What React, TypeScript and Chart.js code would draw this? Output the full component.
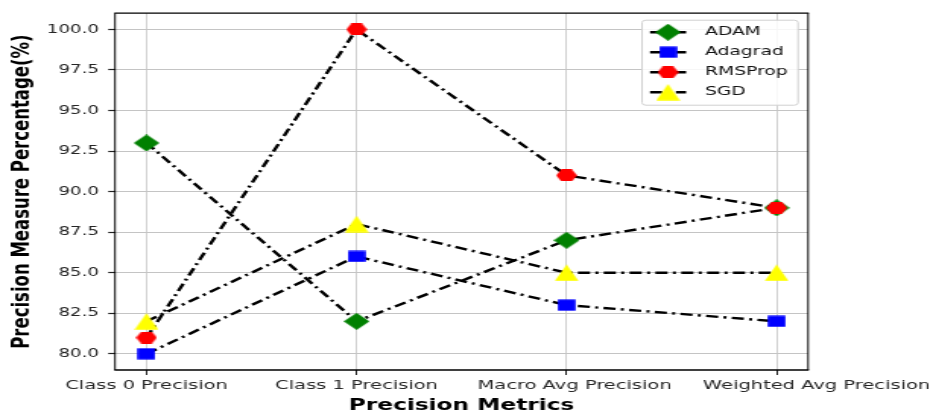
import React, { useEffect, useRef } from 'react';
import { Chart, registerables } from 'chart.js';

Chart.register(...registerables);

// ---- data ----
const categories = ['Class 0 Precision', 'Class 1 Precision', 'Macro Avg Precision', 'Weighted Avg Precision'];
const seriesNames = ['ADAM', 'Adagrad', 'RMSProp', 'SGD'];
const adamValues = [93, 82, 87, 89];
const adagradValues = [80, 86, 83, 82];
const rmspropValues = [81, 100, 91, 89];
const sgdValues = [82, 88, 85, 85];
const yTicks = [80, 82.5, 85, 87.5, 90, 92.5, 95, 97.5, 100];
const seriesColors = ['#008000', '#0000ff', '#ff0000', '#ffff00'];

// ---- layout (the reference is horizontally stretched) ----
const PAGE_W = 933;
const PAGE_H = 415;
const STRETCH = 1.52;
const W = Math.round(PAGE_W / STRETCH);
const H = PAGE_H;
const DASH = [8, 3.5, 2, 3.5];
const FONT = '"DejaVu Sans", sans-serif';
// horizontal nudge of each category label (px, canvas units), as seen in the reference
const xLabelNudge = [0, 0, 5.3, 26.3];

function mk(w: number, h: number, draw: (c: CanvasRenderingContext2D) => void) {
  const c = document.createElement('canvas');
  c.width = w;
  c.height = h;
  const ctx = c.getContext('2d')!;
  draw(ctx);
  return c;
}

function makeMarkers() {
  const diamond = mk(17, 17, (c) => {
    c.fillStyle = seriesColors[0];
    c.beginPath();
    c.moveTo(8.5, 0);
    c.lineTo(17, 8.5);
    c.lineTo(8.5, 17);
    c.lineTo(0, 8.5);
    c.closePath();
    c.fill();
  });
  const square = mk(12, 12, (c) => {
    c.fillStyle = seriesColors[1];
    c.fillRect(0.2, 0.4, 11.6, 11.2);
  });
  const hex = mk(14, 12, (c) => {
    c.fillStyle = seriesColors[2];
    const R = 6.9, cx = 7, cy = 6;
    c.beginPath();
    for (let k = 0; k < 6; k++) {
      const a = (Math.PI / 3) * k;
      const px = cx + R * Math.cos(a);
      const py = cy + R * Math.sin(a);
      if (k === 0) c.moveTo(px, py); else c.lineTo(px, py);
    }
    c.closePath();
    c.fill();
  });
  const tri = mk(16, 17, (c) => {
    c.fillStyle = seriesColors[3];
    c.beginPath();
    c.moveTo(8, 0.3);
    c.lineTo(15.8, 16.7);
    c.lineTo(0.2, 16.7);
    c.closePath();
    c.fill();
  });
  return [diamond, square, hex, tri];
}

export default function App() {
  const ref = useRef<HTMLCanvasElement>(null);

  useEffect(() => {
    const canvas = ref.current!;
    Chart.defaults.font.family = FONT;
    const markers = makeMarkers();
    const allValues = [adamValues, adagradValues, rmspropValues, sgdValues];

    const datasets = allValues.map((vals, i) => ({
      label: seriesNames[i],
      data: vals.map((v, j) => ({ x: j, y: v })),
      borderColor: '#000',
      backgroundColor: seriesColors[i],
      borderWidth: 2.4,
      borderDash: DASH,
      pointStyle: markers[i] as any,
      pointRadius: 8,
      pointHoverRadius: 8,
      fill: false,
      tension: 0,
      order: allValues.length - i,
    }));

    const overlay = {
      id: 'overlay',
      afterDatasetsDraw(chart: any) {
        const { ctx, chartArea: a } = chart;
        ctx.save();
        // frame
        ctx.strokeStyle = '#000';
        ctx.lineWidth = 1.3;
        ctx.beginPath();
        ctx.moveTo(a.left - 0.5, a.top);
        ctx.lineTo(a.right + 0.5, a.top);
        ctx.moveTo(a.left - 0.5, a.bottom);
        ctx.lineTo(a.right + 0.5, a.bottom);
        ctx.stroke();
        ctx.lineWidth = 1;
        ctx.beginPath();
        ctx.moveTo(a.left, a.top);
        ctx.lineTo(a.left, a.bottom);
        ctx.moveTo(a.right, a.top);
        ctx.lineTo(a.right, a.bottom);
        ctx.stroke();

        // category labels
        const xs = chart.scales.x;
        ctx.fillStyle = '#262626';
        ctx.font = `12.8px ${FONT}`;
        ctx.textAlign = 'center';
        ctx.textBaseline = 'middle';
        categories.forEach((label, i) => {
          ctx.fillText(label, xs.getPixelForValue(i) + xLabelNudge[i], a.bottom + 15.7);
        });

        // legend
        const bw = 102.7, bh = 85;
        const bx = a.right - 6.6 - bw;
        const by = a.top + 7;
        const r = 2.5;
        ctx.beginPath();
        ctx.moveTo(bx + r, by);
        ctx.lineTo(bx + bw - r, by);
        ctx.quadraticCurveTo(bx + bw, by, bx + bw, by + r);
        ctx.lineTo(bx + bw, by + bh - r);
        ctx.quadraticCurveTo(bx + bw, by + bh, bx + bw - r, by + bh);
        ctx.lineTo(bx + r, by + bh);
        ctx.quadraticCurveTo(bx, by + bh, bx, by + bh - r);
        ctx.lineTo(bx, by + r);
        ctx.quadraticCurveTo(bx, by, bx + r, by);
        ctx.closePath();
        ctx.fillStyle = 'rgba(255,255,255,0.85)';
        ctx.fill();
        ctx.strokeStyle = '#d0d0d0';
        ctx.lineWidth = 1;
        ctx.stroke();

        chart.data.datasets.forEach((ds: any, i: number) => {
          const y = by + 12 + i * 20;
          const x0 = bx + 5.3;
          const x1 = bx + 29;
          const xm = bx + 17.1;
          ctx.setLineDash(DASH);
          ctx.strokeStyle = '#000';
          ctx.lineWidth = 2.4;
          ctx.beginPath();
          ctx.moveTo(x0, y);
          ctx.lineTo(x1, y);
          ctx.stroke();
          ctx.setLineDash([]);
          const m = ds.pointStyle as HTMLCanvasElement;
          ctx.drawImage(m, xm - m.width / 2, y - m.height / 2);
          ctx.fillStyle = '#111';
          ctx.font = `12.3px ${FONT}`;
          ctx.textBaseline = 'middle';
          ctx.textAlign = 'left';
          ctx.fillText(ds.label, bx + 41.5, y);
        });
        ctx.restore();
      },
    };

    const chart = new Chart(canvas, {
      type: 'line',
      data: { datasets: datasets as any },
      options: {
        animation: false,
        responsive: false,
        devicePixelRatio: 1,
        events: [],
        layout: { padding: { left: 0, top: 12, right: 82.2, bottom: 0 } },
        plugins: { legend: { display: false }, tooltip: { enabled: false } },
        scales: {
          x: {
            type: 'linear',
            min: -0.15,
            max: 3.15,
            bounds: 'data',
            afterBuildTicks: (s: any) => {
              s.ticks = categories.map((_, i) => ({ value: i }));
            },
            afterFit: (s: any) => {
              s.height = 45;
            },
            ticks: {
              display: false,
              callback: (v: any) => categories[v] ?? '',
              autoSkip: false,
              maxRotation: 0,
              minRotation: 0,
            },
            grid: { color: '#c4c4c4', lineWidth: 0.8, tickColor: '#222', tickLength: 5, tickWidth: 1 },
            border: { display: false },
            title: {
              display: true,
              text: 'Precision Metrics',
              color: '#000',
              font: { size: 15.3, weight: 'bold', family: FONT },
              padding: { top: 0, bottom: 0 },
            },
          },
          y: {
            type: 'linear',
            min: 79,
            max: 101,
            bounds: 'data',
            afterBuildTicks: (s: any) => {
              s.ticks = yTicks.map((v) => ({ value: v }));
            },
            afterFit: (s: any) => {
              s.width = 75.7;
            },
            ticks: {
              callback: (v: any) => Number(v).toFixed(1),
              padding: 6,
              color: '#262626',
              font: { size: 12, family: FONT },
            },
            grid: { color: '#c4c4c4', lineWidth: 1, tickColor: '#222', tickLength: 4.5, tickWidth: 1.2 },
            border: { display: false },
            title: {
              display: true,
              text: 'Precision Measure Percentage(%)',
              color: '#000',
              font: { size: 16.5, weight: 'bold', family: FONT },
              padding: { top: 5, bottom: 0 },
            },
          },
        },
      } as any,
      plugins: [overlay],
    });

    return () => chart.destroy();
  }, []);

  return (
    <div style={{ position: 'fixed', left: 0, top: 0, width: PAGE_W, height: PAGE_H, background: '#fff' }}>
      <canvas
        ref={ref}
        width={W}
        height={H}
        style={{ width: `${PAGE_W}px`, height: `${PAGE_H}px`, display: 'block' }}
      />
    </div>
  );
}
